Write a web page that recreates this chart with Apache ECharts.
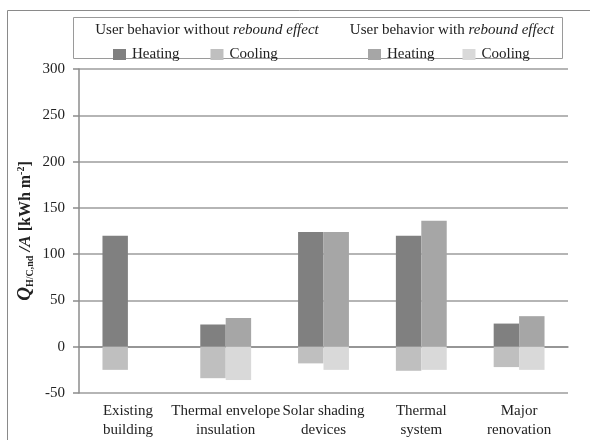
<!DOCTYPE html>
<html>
<head>
<meta charset="utf-8">
<script src="https://cdn.jsdelivr.net/npm/echarts@6/dist/echarts.min.js"></script>
<style>html,body{margin:0;padding:0;background:#fff}#c{width:590px;height:440px}</style>
</head>
<body>
<div id="c"></div>
<script>
const categories = ['Existing\nbuilding', 'Thermal envelope\ninsulation', 'Solar shading\ndevices', 'Thermal\nsystem', 'Major\nrenovation'];
const heatingWithout = [120, 24, 124, 120, 25];
const coolingWithout = [-25, -34, -18, -26, -22];
const heatingWith = [null, 31, 124, 136, 33];
const coolingWith = [null, -36, -25, -25, -25];
const yTicks = {min: -50, max: 300, interval: 50};

const FONT = 'Liberation Serif';
const chart = echarts.init(document.getElementById('c'), null, {renderer: 'canvas'});
const barBase = {type: 'bar', barGap: '0%', barCategoryGap: '48%', emphasis: {disabled: true}};
chart.setOption({
  animation: false,
  textStyle: {fontFamily: FONT},
  grid: {left: 79, right: 22, top: 69, bottom: 44, containLabel: false},
  xAxis: {
    type: 'category', data: categories,
    axisLine: {lineStyle: {color: '#8c8c8c', width: 1.5}},
    axisTick: {show: false},
    axisLabel: {fontFamily: FONT, fontSize: 15, color: '#222', margin: 9, lineHeight: 19, interval: 0}
  },
  yAxis: {
    type: 'value', min: yTicks.min, max: yTicks.max, interval: yTicks.interval,
    axisLine: {show: true, lineStyle: {color: '#8c8c8c', width: 1.5}},
    axisTick: {show: true, length: 6, lineStyle: {color: '#8c8c8c', width: 1.5}},
    axisLabel: {fontFamily: FONT, fontSize: 15, color: '#222', margin: 14},
    splitLine: {show: true, lineStyle: {color: '#9c9c9c', width: 1.5}},
    name: '{q|Q}{sub|H/C,nd}{a| /A}{b| [kWh m}{sup|-2}{b|]}',
    nameLocation: 'middle', nameRotate: 90, nameGap: 44, nameMoveOverlap: false,
    nameTextStyle: {
      fontFamily: FONT, fontSize: 16, color: '#222',
      rich: {
        q: {fontFamily: FONT, fontSize: 19, fontStyle: 'italic', fontWeight: 'bold', color: '#222'},
        sub: {fontFamily: FONT, fontSize: 10, fontWeight: 'bold', color: '#222', verticalAlign: 'bottom', padding: [9, 0, 0, 0]},
        a: {fontFamily: FONT, fontSize: 17, fontStyle: 'italic', fontWeight: 'bold', color: '#222'},
        b: {fontFamily: FONT, fontSize: 16, fontWeight: 'bold', color: '#222'},
        sup: {fontFamily: FONT, fontSize: 10, fontWeight: 'bold', color: '#222', verticalAlign: 'top', padding: [0, 0, 9, 0]}
      }
    }
  },
  legend: [
    {data: ['Heating without', 'Cooling without'], left: 108, top: 42, itemWidth: 13, itemHeight: 11, itemGap: 31,
     icon: 'rect', formatter: n => n.split(' ')[0], textStyle: {fontFamily: FONT, fontSize: 15, color: '#222', padding: [0, 0, 0, 1]}, selectedMode: false},
    {data: ['Heating with', 'Cooling with'], left: 363, top: 42, itemWidth: 13, itemHeight: 11, itemGap: 28,
     icon: 'rect', formatter: n => n.split(' ')[0], textStyle: {fontFamily: FONT, fontSize: 15, color: '#222', padding: [0, 0, 0, 1]}, selectedMode: false}
  ],
  graphic: [
    {type: 'rect', shape: {x: 7.5, y: 10.5, width: 620, height: 500}, style: {fill: 'none', stroke: '#8a8a8a', lineWidth: 1}, silent: true, z: -10},
    {type: 'rect', shape: {x: 73.5, y: 17.5, width: 489, height: 41}, style: {fill: 'none', stroke: '#9a9a9a', lineWidth: 1}, silent: true, z: -5},
    {type: 'text', x: 207, y: 30, style: {text: 'User behavior without {i|rebound effect}', fontFamily: FONT, fontSize: 15, fill: '#222', align: 'center', verticalAlign: 'middle',
      rich: {i: {fontFamily: FONT, fontSize: 15, fontStyle: 'italic', fill: '#222'}}}},
    {type: 'text', x: 452, y: 30, style: {text: 'User behavior with {i|rebound effect}', fontFamily: FONT, fontSize: 15, fill: '#222', align: 'center', verticalAlign: 'middle',
      rich: {i: {fontFamily: FONT, fontSize: 15, fontStyle: 'italic', fill: '#222'}}}}
  ],
  series: [
    Object.assign({}, barBase, {name: 'Heating without', stack: 'without', data: heatingWithout, itemStyle: {color: '#808080'}}),
    Object.assign({}, barBase, {name: 'Cooling without', stack: 'without', data: coolingWithout, itemStyle: {color: '#bfbfbf'}}),
    Object.assign({}, barBase, {name: 'Heating with', stack: 'with', data: heatingWith, itemStyle: {color: '#a6a6a6'}}),
    Object.assign({}, barBase, {name: 'Cooling with', stack: 'with', data: coolingWith, itemStyle: {color: '#d9d9d9'}})
  ]
});
</script>
</body>
</html>
